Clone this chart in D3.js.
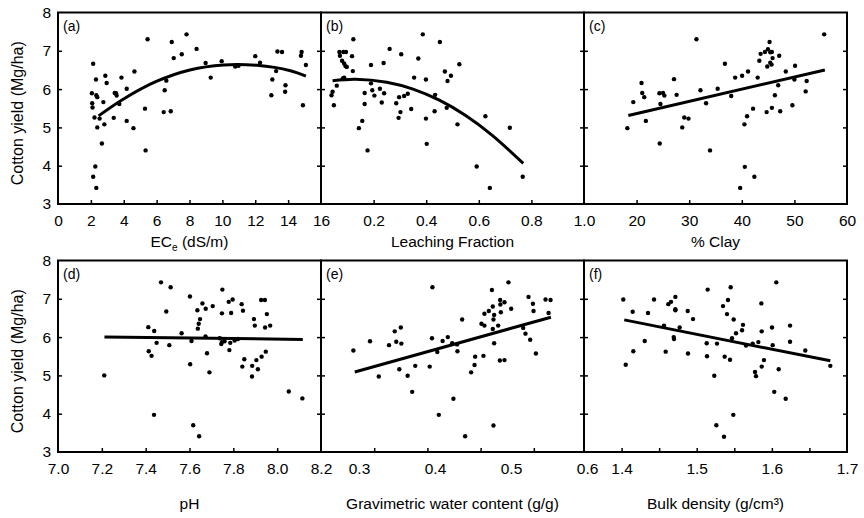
<!DOCTYPE html>
<html>
<head>
<meta charset="utf-8">
<script src="https://cdn.jsdelivr.net/npm/d3@7"></script>
<style>
  body { margin: 0; background: #fff; }
  text { font-family: "Liberation Sans", Arial, Helvetica, sans-serif; }
</style>
</head>
<body>
<div id="chart"></div>
<script>
// ---- data ----
// (a) ECe (dS/m) vs yield
const ecePts = [[2.14,6.66],[2.31,6.25],[2.06,5.89],[2.33,5.84],[2.39,5.79],[2.08,5.63],[2.10,5.52],[2.22,5.26],[2.53,5.23],
  [2.39,5.0],[2.82,5.08],[2.67,4.58],[2.27,3.98],[2.14,3.71],[2.33,3.42],[2.88,6.35],[2.96,6.16],[2.76,5.66],[3.39,5.25],
  [3.45,5.90],[3.53,5.89],[3.57,5.83],[3.86,6.30],[4.18,6.01],[3.73,5.61],[4.18,5.17],[4.59,4.98],[4.65,6.46],[5.29,5.49],
  [5.33,4.40],[5.45,7.30],[6.43,5.40],[6.86,5.42],[6.49,5.97],[6.59,6.22],[6.92,7.23],[7.04,6.81],[7.53,6.91],[7.82,7.43],
  [8.43,7.05],[8.98,6.68],[9.29,6.30],[9.96,6.73],[10.78,6.59],[10.98,6.61],[12.0,6.86],[12.29,6.69],[13.04,6.25],[12.98,5.84],
  [13.27,6.47],[13.35,6.98],[13.63,6.97],[13.84,6.10],[13.82,5.93],[14.82,6.97],[14.78,6.87],[15.08,6.63],[14.90,5.58]];
const eceFit = [[2.47,5.30],[3.94,5.73],[5.98,6.20],[8.02,6.50],[10.06,6.63],[12.1,6.62],[14.14,6.48],[15.08,6.34]];

// (b) leaching fraction
const lfPts = [[0.040,5.84],[0.044,5.93],[0.049,5.58],[0.060,6.09],[0.070,6.97],[0.072,6.87],[0.085,6.97],[0.095,6.97],
  [0.080,6.74],[0.088,6.67],[0.093,6.60],[0.098,6.58],[0.083,6.28],[0.088,6.30],[0.118,6.86],[0.123,7.30],[0.121,6.47],
  [0.144,4.98],[0.157,5.17],[0.166,5.90],[0.166,5.61],[0.177,4.40],[0.190,6.63],[0.190,6.15],[0.195,5.97],[0.203,5.83],
  [0.224,6.01],[0.231,5.65],[0.238,6.68],[0.240,5.89],[0.261,7.05],[0.286,5.63],[0.297,5.79],[0.295,5.25],[0.302,5.40],
  [0.305,6.91],[0.316,5.82],[0.330,5.88],[0.343,5.48],[0.354,6.30],[0.370,6.80],[0.387,7.43],[0.399,6.25],[0.399,5.23],
  [0.402,4.57],[0.432,5.42],[0.434,5.85],[0.452,7.23],[0.471,6.46],[0.478,5.51],[0.481,6.21],[0.494,6.35],[0.519,5.08],
  [0.526,6.65],[0.592,3.98],[0.625,5.29],[0.642,3.42],[0.718,4.99],[0.767,3.71]];
const lfFit = [[0.044,6.22],[0.13,6.26],[0.25,6.18],[0.35,6.0],[0.45,5.71],[0.55,5.31],[0.65,4.80],[0.769,4.06]];

// (c) % clay
const clayPts = [[18.24,4.98],[19.37,5.66],[20.94,6.16],[21.07,5.90],[21.45,5.79],[21.76,5.17],[24.40,4.58],[24.34,5.89],
  [25.03,5.90],[25.28,5.83],[24.53,5.61],[27.11,6.26],[27.61,5.85],[28.68,5.0],[29.06,5.26],[29.87,5.23],[31.38,7.30],
  [32.14,5.97],[33.21,5.63],[33.96,4.40],[35.41,6.01],[36.79,6.66],[37.99,5.82],[38.74,6.30],[40.06,6.35],[39.69,3.42],
  [40.50,5.08],[40.57,3.97],[41.0,5.29],[41.19,6.46],[42.14,5.49],[42.39,3.71],[43.02,6.30],[43.33,6.74],[43.58,6.92],
  [44.40,6.97],[44.97,7.04],[45.28,7.23],[45.41,6.96],[45.72,6.97],[44.84,6.59],[45.41,6.69],[45.66,6.64],[45.85,6.81],
  [44.72,5.40],[45.72,5.51],[46.29,5.84],[46.92,6.10],[47.11,6.87],[47.30,5.42],[48.36,6.46],[49.62,5.58],[50.0,6.25],
  [50.13,6.61],[52.14,5.94],[52.33,6.21],[55.66,7.43]];
const clayFit = [[18.43,5.31],[55.79,6.50]];

// (d) pH
const phPts = [[7.211,5.0],[7.412,6.26],[7.439,6.16],[7.45,5.85],[7.414,5.63],[7.427,5.51],[7.438,3.97],[7.47,7.43],
  [7.494,6.67],[7.514,7.30],[7.508,5.79],[7.564,6.10],[7.602,7.06],[7.609,5.90],[7.603,5.29],[7.617,3.70],[7.644,3.41],
  [7.636,6.70],[7.648,6.47],[7.642,6.35],[7.638,6.22],[7.659,6.88],[7.674,6.74],[7.673,6.02],[7.68,5.58],[7.691,5.08],
  [7.706,6.81],[7.75,7.24],[7.748,6.62],[7.738,5.97],[7.745,5.82],[7.748,5.87],[7.76,5.89],[7.779,6.92],[7.797,6.98],
  [7.79,6.63],[7.786,5.85],[7.782,5.66],[7.806,5.91],[7.821,5.95],[7.838,6.86],[7.844,6.69],[7.85,5.42],[7.841,5.23],
  [7.885,4.97],[7.886,5.25],[7.894,6.47],[7.898,6.30],[7.905,5.40],[7.912,5.16],[7.927,6.97],[7.944,6.97],[7.929,5.49],
  [7.948,5.62],[7.953,6.60],[7.945,6.25],[7.968,6.30],[8.053,4.58],[8.115,4.40]];
const phFit = [[7.212,6.0],[8.117,5.94]];

// (e) gravimetric water content
const gwcPts = [[0.2926,5.65],[0.3145,5.89],[0.326,4.97],[0.3395,5.79],[0.347,6.15],[0.349,5.88],[0.355,6.25],[0.3557,5.83],
  [0.353,5.16],[0.364,4.99],[0.370,4.57],[0.374,5.25],[0.393,5.23],[0.396,5.97],[0.3966,7.30],[0.403,5.61],[0.405,3.97],
  [0.410,5.90],[0.4168,6.0],[0.4225,5.84],[0.4242,4.39],[0.429,5.81],[0.4295,5.63],[0.4357,6.46],[0.4396,3.41],[0.4475,5.08],
  [0.452,5.27],[0.4528,5.49],[0.4611,6.35],[0.465,6.30],[0.4637,5.51],[0.465,6.61],[0.4708,6.68],[0.4748,7.23],[0.476,6.80],
  [0.4769,6.46],[0.4778,6.58],[0.476,6.21],[0.4778,5.84],[0.4769,3.69],[0.4831,6.30],[0.4853,5.39],[0.4914,5.40],[0.4857,6.97],
  [0.486,6.85],[0.4866,6.65],[0.4914,6.91],[0.4966,7.43],[0.5002,6.74],[0.516,6.24],[0.519,6.09],[0.523,7.05],[0.5252,5.93],
  [0.5288,6.87],[0.5296,6.68],[0.5327,5.57],[0.5454,6.98],[0.552,6.97],[0.5494,6.63]];
const gwcFit = [[0.2944,5.09],[0.5525,6.52]];

// (f) bulk density
const bdPts = [[1.4023,6.98],[1.4055,5.28],[1.4148,6.66],[1.4156,5.63],[1.4308,5.90],[1.4352,6.63],[1.4432,6.98],[1.4565,6.30],
  [1.4587,5.62],[1.4622,6.86],[1.4658,6.92],[1.4698,5.95],[1.4694,6.0],[1.4716,7.05],[1.4716,6.73],[1.4716,6.70],[1.4773,6.25],
  [1.488,6.68],[1.4884,5.57],[1.4951,6.47],[1.5133,5.84],[1.5137,5.50],[1.5146,7.24],[1.5234,4.99],[1.5261,3.70],[1.527,5.83],
  [1.535,6.81],[1.5372,5.49],[1.5363,3.40],[1.5403,6.60],[1.5416,6.97],[1.5452,7.30],[1.5443,5.41],[1.547,5.97],[1.5487,3.97],
  [1.5492,6.46],[1.5523,6.10],[1.5603,6.18],[1.5616,6.32],[1.5656,5.78],[1.5745,5.83],[1.5776,5.09],[1.5789,4.98],[1.582,5.87],
  [1.586,6.88],[1.5865,6.15],[1.5865,5.23],[1.5895,5.40],[1.6002,6.25],[1.6011,5.79],[1.6032,4.57],[1.6059,7.43],[1.6091,5.16],
  [1.6184,4.39],[1.6242,6.30],[1.6242,5.88],[1.6445,5.65],[1.6778,5.25]];
const bdFit = [[1.4036,6.45],[1.6778,5.38]];

// axes: tick marks and tick labels
const yLabels = [3, 4, 5, 6, 7, 8];
const yTicks = [4, 5, 6, 7];
const eceTicks = [2, 4, 6, 8, 10, 12, 14];
const eceLabels = [0, 2, 4, 6, 8, 10, 12, 14, 16];
const lfTicks = [0.2, 0.4, 0.6, 0.8];
const lfLabels = [0.2, 0.4, 0.6, 0.8, 1.0];
const clayTicks = [20, 30, 40, 50];
const clayLabels = [20, 30, 40, 50, 60];
const phTicks = [7.2, 7.4, 7.6, 7.8, 8.0];
const phLabels = [7.0, 7.2, 7.4, 7.6, 7.8, 8.0, 8.2];
const gwcTicks = [0.32, 0.39, 0.46, 0.53];
const gwcLabels = [0.3, 0.4, 0.5, 0.6];
const bdTicks = [1.4, 1.45, 1.5, 1.55, 1.6, 1.65];
const bdLabels = [1.4, 1.5, 1.6, 1.7];

const panelTags = ["(a)", "(b)", "(c)", "(d)", "(e)", "(f)"];
const yTitle = "Cotton yield (Mg/ha)";

// ---- layout ----
const width = 864, height = 518;
const panelW = 263, panelH = 191.5;
const lefts = [58, 321, 584];
const tops = [12.5, 260.5];
const font = "'Liberation Sans', Arial, Helvetica, sans-serif";
const fs = 15.5;

const panels = [
  { pts: ecePts, fit: eceFit, domain: [0, 16], ticks: eceTicks, labels: eceLabels, fmt: d3.format("d"), curved: true },
  { pts: lfPts, fit: lfFit, domain: [0, 1], ticks: lfTicks, labels: lfLabels, fmt: d3.format(".1f"), curved: true },
  { pts: clayPts, fit: clayFit, domain: [10, 60], ticks: clayTicks, labels: clayLabels, fmt: d3.format("d") },
  { pts: phPts, fit: phFit, domain: [7.0, 8.2], ticks: phTicks, labels: phLabels, fmt: d3.format(".1f") },
  { pts: gwcPts, fit: gwcFit, domain: [0.25, 0.596], ticks: gwcTicks, labels: gwcLabels, fmt: d3.format(".1f") },
  { pts: bdPts, fit: bdFit, domain: [1.35, 1.70], ticks: bdTicks, labels: bdLabels, fmt: d3.format(".1f") }
];

const svg = d3.select("#chart")
  .append("svg")
  .attr("width", width)
  .attr("height", height)
  .style("background", "#fff");

function styleAxis(a) {
  a.select(".domain").remove();
  a.attr("font-size", fs).attr("font-family", font);
  a.selectAll("line").attr("stroke", "#000").attr("stroke-width", 1.5);
  a.selectAll("text").attr("fill", "#000");
}

panels.forEach((p, i) => {
  const col = i % 3, row = Math.floor(i / 3);
  const x0 = lefts[col], y0 = tops[row];
  const x = d3.scaleLinear().domain(p.domain).range([x0, x0 + panelW]);
  const y = d3.scaleLinear().domain([3, 8]).range([y0 + panelH, y0]);
  const g = svg.append("g");

  // inward tick marks
  g.append("g")
    .attr("transform", `translate(0,${y0 + panelH})`)
    .call(d3.axisBottom(x).tickValues(p.ticks).tickSizeInner(-4).tickSizeOuter(0).tickFormat(""))
    .call(styleAxis);
  g.append("g")
    .attr("transform", `translate(${x0},0)`)
    .call(d3.axisLeft(y).tickValues(yTicks).tickSizeInner(-4).tickSizeOuter(0).tickFormat(""))
    .call(styleAxis);
  g.append("g")
    .attr("transform", `translate(${x0 + panelW},0)`)
    .call(d3.axisRight(y).tickValues(yTicks).tickSizeInner(-4).tickSizeOuter(0).tickFormat(""))
    .call(styleAxis);

  // tick labels
  g.append("g")
    .attr("transform", `translate(0,${y0 + panelH})`)
    .call(d3.axisBottom(x).tickValues(p.labels).tickSize(0).tickPadding(11).tickFormat(p.fmt))
    .call(styleAxis);
  if (col === 0) {
    g.append("g")
      .attr("transform", `translate(${x0},0)`)
      .call(d3.axisLeft(y).tickValues(yLabels).tickSize(0).tickPadding(7).tickFormat(d3.format("d")))
      .call(styleAxis);
  }

  // points
  g.selectAll("circle")
    .data(p.pts)
    .enter()
    .append("circle")
    .attr("cx", d => x(d[0]))
    .attr("cy", d => y(d[1]))
    .attr("r", 2.2)
    .attr("fill", "#000");

  // fitted line
  const line = d3.line()
    .x(d => x(d[0]))
    .y(d => y(d[1]))
    .curve(p.curved ? d3.curveCatmullRom : d3.curveLinear);
  g.append("path")
    .datum(p.fit)
    .attr("d", line)
    .attr("fill", "none")
    .attr("stroke", "#000")
    .attr("stroke-width", 3);

  // frame
  g.append("rect")
    .attr("x", x0)
    .attr("y", y0)
    .attr("width", panelW)
    .attr("height", panelH)
    .attr("fill", "none")
    .attr("stroke", "#000")
    .attr("stroke-width", 2);

  // panel tag
  g.append("text")
    .attr("x", x0 + 5)
    .attr("y", y0 + 18)
    .attr("font-size", 14)
    .text(panelTags[i]);
});

// x axis titles
const titleY = [247, 509];
const ece = svg.append("text")
  .attr("x", lefts[0] + panelW / 2)
  .attr("y", titleY[0])
  .attr("text-anchor", "middle")
  .attr("font-size", fs);
ece.append("tspan").text("EC");
ece.append("tspan").attr("font-size", 10).attr("dy", 4).text("e");
ece.append("tspan").attr("dy", -4).text(" (dS/m)");

const otherTitles = [
  { col: 1, row: 0, text: "Leaching Fraction" },
  { col: 2, row: 0, text: "% Clay" },
  { col: 0, row: 1, text: "pH" },
  { col: 1, row: 1, text: "Gravimetric water content (g/g)" },
  { col: 2, row: 1, text: "Bulk density (g/cm\u00B3)" }
];
otherTitles.forEach(t => {
  svg.append("text")
    .attr("x", lefts[t.col] + panelW / 2)
    .attr("y", titleY[t.row])
    .attr("text-anchor", "middle")
    .attr("font-size", fs)
    .text(t.text);
});

// y axis titles
tops.forEach(t => {
  svg.append("text")
    .attr("transform", `translate(23,${t + panelH / 2 + 5}) rotate(-90)`)
    .attr("text-anchor", "middle")
    .attr("font-size", 16)
    .text(yTitle);
});
</script>
</body>
</html>
